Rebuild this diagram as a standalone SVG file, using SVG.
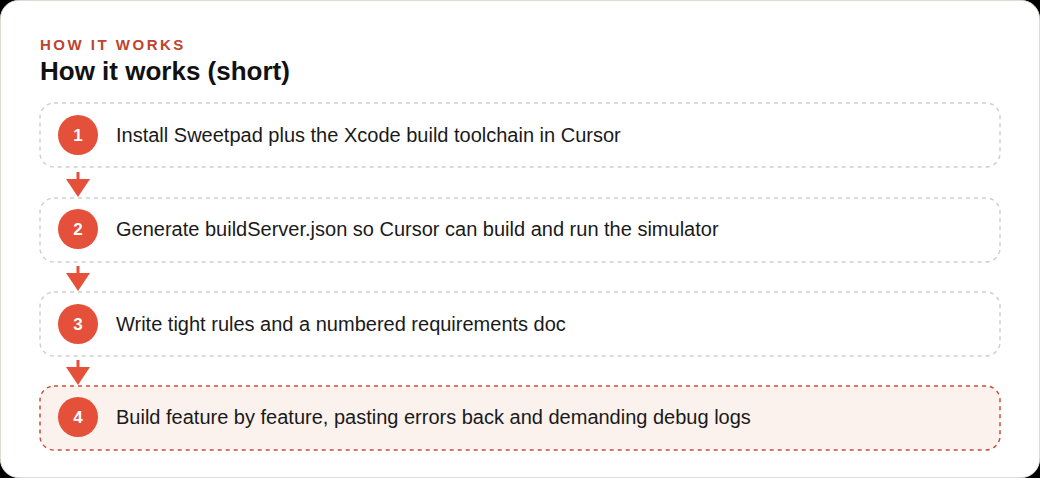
<svg xmlns="http://www.w3.org/2000/svg" width="1040" height="478" viewBox="0 0 1040 478">
<style>
.card{fill:#ffffff;stroke:#dddbd4;stroke-width:1}
.box{fill:#ffffff;stroke:#cfcfcf;stroke-width:1.5;stroke-dasharray:4 4}
.box.hl{fill:#fbf1ed;stroke:#c9503c}
.num{fill:#e5503a}
.numt{fill:#ffffff;font-family:"Liberation Sans",Arial,sans-serif;font-size:17px;font-weight:bold;text-anchor:middle}
.lbl{fill:#1a1a1a;font-family:"Liberation Sans",Arial,sans-serif;font-size:20px}
.eyebrow{fill:#c0432b;font-family:"Liberation Sans",Arial,sans-serif;font-size:15px;font-weight:bold;letter-spacing:2.5px}
.title{fill:#111111;font-family:"Liberation Sans",Arial,sans-serif;font-size:26px;font-weight:bold}
.conn{stroke:#e5503a;stroke-width:3;fill:none}
.head{fill:#e5503a}
</style>
<rect x="0" y="0" width="1040" height="478" fill="#000000"/>
<rect class="card" x="0.5" y="0.5" width="1039" height="477" rx="18"/>
<text class="eyebrow" x="40" y="50">HOW IT WORKS</text>
<text class="title" x="40" y="80">How it works (short)</text>
<g id="connectors">
<line class="conn" x1="78" y1="172" x2="78" y2="180"/>
<polygon class="head" points="66,179 90,179 78,197"/>
<line class="conn" x1="78" y1="266" x2="78" y2="274"/>
<polygon class="head" points="66,273 90,273 78,291"/>
<line class="conn" x1="78" y1="360" x2="78" y2="368"/>
<polygon class="head" points="66,367 90,367 78,385"/>
</g>
<g id="step1">
<rect class="box" x="40" y="103" width="960" height="64" rx="14"/>
<circle class="num" cx="78" cy="135" r="20"/>
<text class="numt" x="78" y="141">1</text>
<text class="lbl" x="116" y="142">Install Sweetpad plus the Xcode build toolchain in Cursor</text>
</g>
<g id="step2">
<rect class="box" x="40" y="198" width="960" height="64" rx="14"/>
<circle class="num" cx="78" cy="229" r="20"/>
<text class="numt" x="78" y="235">2</text>
<text class="lbl" x="116" y="236">Generate buildServer.json so Cursor can build and run the simulator</text>
</g>
<g id="step3">
<rect class="box" x="40" y="292" width="960" height="64" rx="14"/>
<circle class="num" cx="78" cy="324" r="20"/>
<text class="numt" x="78" y="330">3</text>
<text class="lbl" x="116" y="331">Write tight rules and a numbered requirements doc</text>
</g>
<g id="step4">
<rect class="box hl" x="40" y="386" width="960" height="64" rx="14"/>
<circle class="num" cx="78" cy="417" r="20"/>
<text class="numt" x="78" y="423">4</text>
<text class="lbl" x="116" y="424">Build feature by feature, pasting errors back and demanding debug logs</text>
</g>
</svg>
